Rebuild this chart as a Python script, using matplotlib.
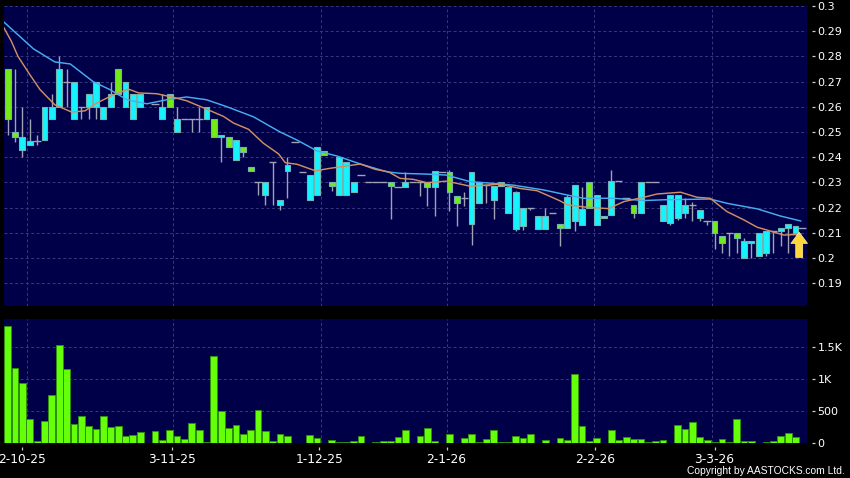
import matplotlib
matplotlib.use("Agg")
import matplotlib.pyplot as plt
import numpy as np

# candle bodies, wicks and colour (g green, c cyan, d flat), one entry per day
body_top = [.275,.25,.248,.2466,.2466,.26,.26,.275,.27,.27,.26,.265,.27,.26,.265,.275,.27,.265,.265,np.nan,
            .2612,.26,.265,.255,.255,.255,.255,.26,.255,.2488,.248,.247,.244,.236,.23,.23,.238,.223,.2368,.246,
            .234,.233,.244,.2425,.23,.24,.238,.23,.233,.23,.23,.23,.23,.228,.23,.23,.23,.23,.2346,.234,
            .234,.2247,.224,.234,.23,.229,.2287,.23,.228,.226,.2197,.22,.2167,.2167,.2177,.2136,.2241,.2289,.2196,.23,
            .2249,.2168,.2307,.2307,.224,.221,.23,.23,.23,.221,.2249,.2249,.2209,.2209,.219,.2148,.2148,.2089,.21,.21,
            .2069,.2069,.21,.2108,.2108,.2118,.2136,.2128]
body_bot = [.255,.248,.243,.245,.2466,.247,.255,.26,.27,.255,.26,.26,.26,.255,.26,.265,.26,.255,.26,np.nan,
            .2612,.255,.26,.25,.255,.255,.255,.255,.248,.248,.244,.239,.242,.2347,.23,.225,.238,.221,.2346,.246,
            .234,.223,.225,.241,.2287,.225,.225,.226,.233,.23,.23,.23,.2287,.228,.228,.23,.23,.228,.228,.234,
            .226,.222,.224,.2136,.222,.229,.223,.2287,.2177,.2117,.2127,.22,.2117,.2117,.2177,.2118,.2118,.2148,.213,.2197,
            .213,.2157,.217,.2307,.224,.2177,.2177,.23,.23,.2148,.2138,.2158,.2177,.2209,.2158,.2148,.2098,.2058,.21,.2078,
            .2,.2058,.2008,.2018,.2108,.2108,.2118,.21]
highs = [.275,.275,.26,.255,.249,.26,.265,.28,.275,.27,.26,.265,.27,.26,.27,.275,.27,.265,.265,np.nan,
         .2612,.265,.265,.26,.255,.255,.26,.26,.255,.2488,.248,.247,.244,.236,.23,.23,.238,.223,.24,.246,
         .234,.233,.244,.2425,.23,.24,.238,.23,.233,.23,.23,.23,.23,.228,.234,.23,.23,.23,.2346,.234,
         .235,.2247,.226,.234,.23,.229,.2287,.23,.228,.2265,.2197,.22,.2167,.22,.2177,.2136,.225,.2289,.228,.23,
         .2249,.2168,.235,.2307,.224,.221,.23,.23,.23,.221,.2249,.2249,.224,.2221,.219,.2148,.2148,.2089,.21,.21,
         .2078,.2069,.21,.2108,.2108,.2118,.2136,.2128]
lows = [.249,.246,.24,.245,.245,.247,.255,.26,.26,.255,.255,.255,.255,.255,.26,.265,.26,.255,.26,np.nan,
        .2612,.255,.26,.25,.255,.25,.25,.255,.248,.238,.244,.239,.24,.2347,.225,.221,.221,.219,.224,.246,
        .234,.223,.225,.241,.2267,.225,.225,.226,.233,.23,.23,.23,.2155,.228,.228,.23,.2247,.2206,.2167,.234,
        .2187,.2127,.2206,.205,.222,.222,.2155,.2287,.2177,.2106,.211,.219,.2117,.2117,.2177,.2047,.2118,.2107,.213,.2197,
        .213,.2157,.217,.2307,.224,.2157,.2177,.23,.23,.2148,.213,.215,.2157,.2148,.2148,.213,.2037,.2018,.2008,.2018,
        .2,.2,.2008,.2008,.2018,.2047,.2018,.209]
kinds = ["g","g","c","c","d","c","c","c","d","c","d","c","c","c","c","g","c","c","c","n",
         "d","c","g","c","d","d","d","c","g","c","g","c","g","g","d","c","d","c","c","d",
         "d","c","c","g","g","c","c","c","d","d","d","d","g","d","c","d","d","g","c","d",
         "g","g","d","c","c","d","c","g","c","c","c","d","c","c","d","g","c","c","c","g",
         "c","c","c","d","d","g","c","d","d","c","c","c","c","d","c","d","g","g","d","g",
         "c","c","c","c","d","c","c","c"]

volume = [1840,1170,936,380,36,343,754,1529,1154,296,426,276,229,432,260,265,120,130,172,0,
          198,52,203,120,62,312,208,15,1357,504,239,281,140,208,515,187,31,146,120,10,
          0,135,88,10,57,20,20,36,114,5,20,36,36,94,203,10,109,234,42,0,
          151,10,83,151,20,68,208,20,15,109,78,146,10,52,10,78,47,1082,276,36,
          83,5,208,47,99,62,62,21,31,47,10,281,218,333,94,57,15,68,21,374,
          42,31,10,15,31,109,166,104]

# moving averages at their bends
ma_blue_x = [-.5,3.5,6.4,8.5,11.6,13.9,16.2,18.9,21.6,24.3,27,29.8,33.4,37,39.3,42,44.7,47.9,51.5,53.3,56.9,59.6,
             62.8,66,68.7,72.8,76,78.2,82.3,86.4,89.1,95.4,97.7,101.8,104.9,107.7]
ma_blue = [.2936,.283,.2778,.277,.27,.2668,.2628,.2612,.2628,.2639,.2628,.26,.256,.25,.2468,.2425,.2405,.2373,.2342,.2336,.2333,.2329,
           .2303,.2296,.2289,.227,.225,.2237,.2237,.2228,.2231,.2234,.2217,.2195,.2167,.2147]
ma_orange_x = [-.5,.5,1.4,3,4.4,6.4,8.7,10.5,12.1,14.4,16.4,17.8,20.2,22.3,24.3,26.1,29.3,30.7,32.7,34.7,36.8,37.7,39.3,41.8,43.8,
               47.9,49.9,51.7,53.3,55.1,56.9,59.6,62.8,66.9,69.6,71.9,75,76,78.7,81.6,83.7,86.4,88.2,91.4,93.6,95.4,97.7,100,101.8,103.6,105.4,107.7]
ma_orange = [.2913,.286,.28,.2728,.2668,.2608,.2579,.2584,.2615,.2648,.267,.2655,.2652,.2639,.2624,.2602,.2562,.2535,.2511,.2456,.2413,.2378,.2372,.2346,.2356,
             .2373,.2352,.2342,.2316,.2312,.2299,.2305,.2285,.2293,.2276,.2267,.2227,.2211,.2201,.2196,.2224,.2241,.2254,.2261,.2241,.2237,.2184,.2151,.2122,.2107,.2091,.2094]

price_ticks = [0.3,0.29,0.28,0.27,0.26,0.25,0.24,0.23,0.22,0.21,0.2,0.19]
price_labels = ["0.3","0.29","0.28","0.27","0.26","0.25","0.24","0.23","0.22","0.21","0.2","0.19"]
vol_ticks = [0,500,1000,1500]
vol_labels = ["0","500","1K","1.5K"]
date_pos = [1.99,22.29,42.3,59.6,79.8,96]
date_labels = ["2-10-25","3-11-25","1-12-25","2-1-26","2-2-26","3-3-26"]
grid_pos = [2.6,22.5,42.5,59.6,79.6,95.6]

W, H = 850, 478
bg = "#000048"
gridc = "#383880"
fig = plt.figure(figsize=(W/100, H/100), dpi=100, facecolor="black")

def panel(top, bottom):
    a = fig.add_axes([4/W, 1-bottom/H, 803.3/W, (bottom-top)/H], facecolor=bg)
    for s in a.spines.values():
        s.set_visible(False)
    a.spines["right"].set_position(("outward", 3.3))
    a.spines["bottom"].set_position(("outward", 2.4))
    a.yaxis.tick_right()
    a.tick_params(axis="y", length=2, width=0.9, color="#cccccc", labelcolor="white", labelsize=8, pad=2)
    a.set_xlim(-0.5, 108.6)
    for g in grid_pos:
        a.axvline(g, color=gridc, lw=0.7, ls=(0, (3, 2.5)), zorder=1)
    a.set_axisbelow(True)
    a.grid(axis="y", color=gridc, lw=0.7, ls=(0, (3, 2.5)))
    return a

ax = panel(6, 306)
ax.set_ylim(0.3 - 300/2520, 0.3)
ax.set_yticks(price_ticks, price_labels)
ax.set_xticks([])

xs = np.arange(len(body_top))
top = np.array(body_top)
bot = np.array(body_bot)
ax.vlines(xs, lows, highs, color="#a2a2b4", lw=1.0, zorder=2)
for k, col in (("g", "#72ec14"), ("c", "#14f4ff")):
    m = np.array(kinds) == k
    ax.bar(xs[m], top[m]-bot[m], bottom=bot[m], width=0.8, color=col, edgecolor="#74b4b0", lw=0.8, zorder=3)
m = np.array(kinds) == "d"
ax.hlines(top[m], xs[m]-0.5, xs[m]+0.5, color="#a2a2b4", lw=1.0, zorder=2)
ax.hlines(0.2118, 107, 108.4, color="#a2a2b4", lw=1.0, zorder=2)

ax.plot(ma_blue_x, ma_blue, color="#45aef0", lw=1.05, zorder=4)
ax.plot(ma_orange_x, ma_orange, color="#d08e64", lw=1.05, zorder=4)

# last day marker
ax.annotate("", xy=(107.5, 0.2102), xytext=(107.5, 0.2002), zorder=5,
            arrowprops=dict(width=5, headwidth=12, headlength=8, fc="#ffd53c", ec="#fff0a0", lw=0.5, shrinkA=0, shrinkB=0))

ax2 = panel(319, 443.3)
ax2.set_ylim(0, 124.3/32*500)
ax2.set_yticks(vol_ticks, vol_labels)
ax2.bar(xs, volume, width=0.92, color="#66ff0a", edgecolor="#2f8f10", lw=0.7, zorder=3)
ax2.set_xticks(date_pos, date_labels)
ax2.tick_params(axis="x", length=2.2, width=0.9, color="#cccccc", labelcolor="white", labelsize=8.8, pad=2.6)

fig.text(845/W, 1-471.5/H, "Copyright by AASTOCKS.com Ltd.", color="white", fontsize=7.4, family="Liberation Sans", ha="right", va="center")

fig.savefig("out.png", dpi=100, facecolor="black")
